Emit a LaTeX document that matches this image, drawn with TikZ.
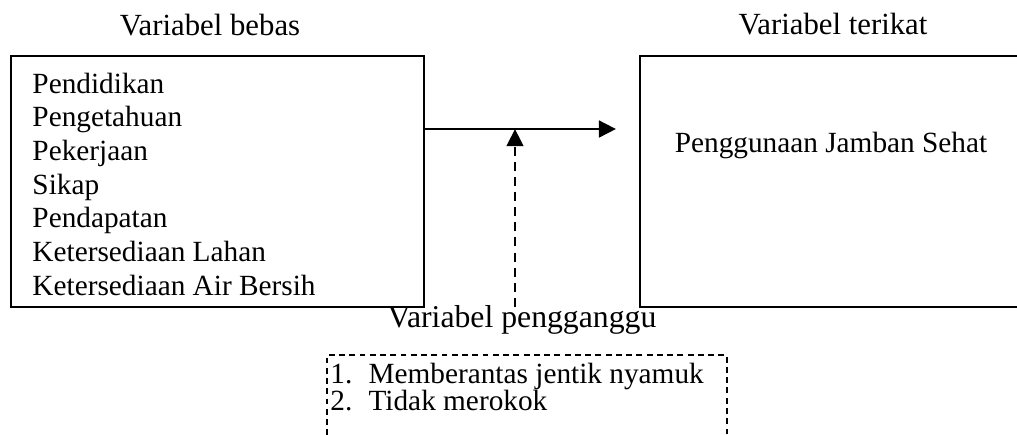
\documentclass[tikz,border=0pt]{standalone}
\usepackage{fontspec}
\setmainfont{Liberation Serif}
\usetikzlibrary{arrows.meta}
\newcommand\pxs{0.4096pt}

\begin{document}
\begin{tikzpicture}[x=\pxs, y=-\pxs,
    kotak/.style={draw, line width=0.9pt, inner sep=0pt},
    kotakputus/.style={draw, line width=0.7pt, dash pattern=on 2.4pt off 1.8pt, inner sep=0pt},
    judul/.style={anchor=base, inner sep=0pt, font=\fontsize{12.6}{15}\selectfont},
    isi/.style={inner sep=0pt, font=\fontsize{12}{14}\selectfont},
    panah/.style={-{Triangle[length=7pt,width=6.8pt]}, line width=1.2pt}]
  \clip (0,0) rectangle (1017,434);
  % judul
  \node[judul] (judulbebas) at (210,35) {Variabel bebas};
  \node[judul] (judulterikat) at (833,34) {Variabel terikat};
  % kotak variabel
  \node[kotak, minimum width={413*\pxs}, minimum height={251*\pxs}] (bebas) at (217.5,181.5) {};
  \node[kotak, minimum width={400*\pxs}, minimum height={251*\pxs}] (terikat) at (840,181.5) {};
  \foreach \teks [count=\i] in {Pendidikan, Pengetahuan, Pekerjaan, Sikap,
      Pendapatan, Ketersediaan Lahan, Ketersediaan Air Bersih}
    \node[isi, anchor=base west] (v\i) at (32,{93+33.67*(\i-1)}) {\teks};
  \node[isi, anchor=base] (jamban) at (831,152) {Penggunaan Jamban Sehat};
  % panah
  \coordinate (ujung) at (616,129);
  \coordinate (pangkal) at (515,307);
  \draw[panah] (bebas.east |- ujung) -- (ujung);
  \draw[panah, line width=1pt, dash pattern=on 3.7pt off 2.5pt] (pangkal) -- (pangkal |- ujung);
  % pengganggu
  \node[judul, font=\fontsize{13}{15}\selectfont] (judulganggu) at (522,327) {Variabel pengganggu};
  \node[kotakputus, minimum width={400*\pxs}, minimum height={110*\pxs}] (ganggu) at (527,410) {};
  \node[isi, anchor=base west] (g1) at (330,383) {\makebox[15.6pt][l]{1.}Memberantas jentik nyamuk};
  \node[isi, anchor=base west] (g2) at (330,410) {\makebox[15.6pt][l]{2.}Tidak merokok};
\end{tikzpicture}
\end{document}
